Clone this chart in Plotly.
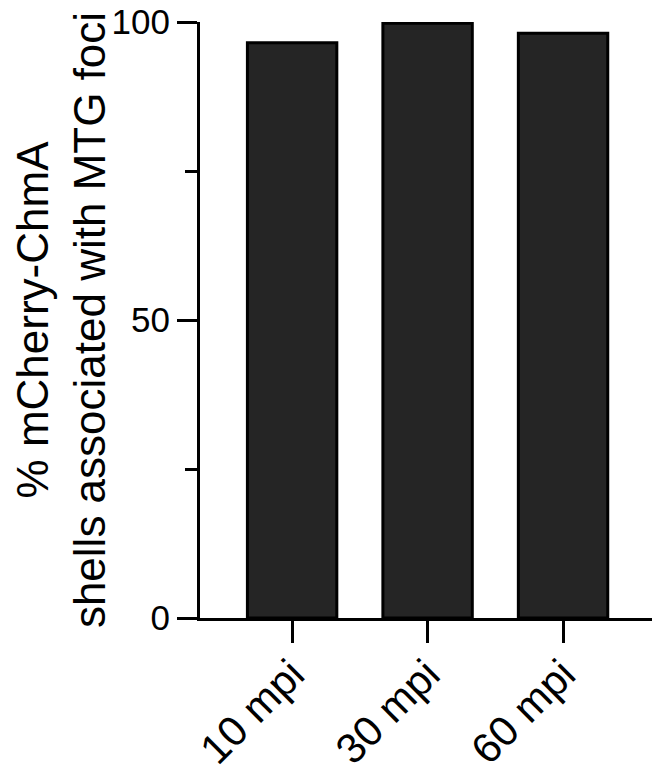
import plotly.graph_objects as go

categories = ["10 mpi", "30 mpi", "60 mpi"]
values = [96.5, 99.8, 98.1]
y_tick_vals = [0, 50, 100]
y_tick_text = ["0", "50", "100"]

FONT = "Liberation Sans, Arial, sans-serif"

fig = go.Figure(
    go.Bar(
        x=categories,
        y=values,
        width=0.66,
        marker=dict(color="#252525", line=dict(color="black", width=3)),
    )
)

# page body has an 8px default margin, so the figure is shifted by (8, 8)
fig.update_layout(
    width=652,
    height=768,
    margin=dict(l=192, r=7, t=14, b=158),
    plot_bgcolor="white",
    paper_bgcolor="white",
    showlegend=False,
    font=dict(family=FONT, color="black"),
)

fig.update_xaxes(
    range=[-0.68, 2.664],
    automargin=False,
    showline=True,
    linecolor="black",
    linewidth=3,
    ticks="outside",
    ticklen=22,
    tickwidth=3,
    tickcolor="black",
    tickangle=-45,
    ticklabelstandoff=-10,
    ticklabeloverflow="allow",
    tickfont=dict(size=42, family=FONT, color="black"),
    showgrid=False,
    zeroline=False,
)

fig.update_yaxes(
    range=[0, 100],
    automargin=False,
    showline=True,
    linecolor="black",
    linewidth=3,
    ticks="outside",
    ticklen=20,
    tickwidth=3,
    tickcolor="black",
    tickvals=y_tick_vals,
    ticktext=y_tick_text,
    ticklabeloverflow="allow",
    tickfont=dict(size=35, family=FONT, color="black"),
    minor=dict(tickvals=[25, 75], ticks="outside", ticklen=12, tickwidth=3, tickcolor="black", showgrid=False),
    showgrid=False,
    zeroline=False,
    title=dict(
        text="% mCherry-ChmA<br>shells associated with MTG foci",
        font=dict(size=44, family=FONT, color="black"),
        standoff=14,
    ),
)

fig.write_html("out.html")
